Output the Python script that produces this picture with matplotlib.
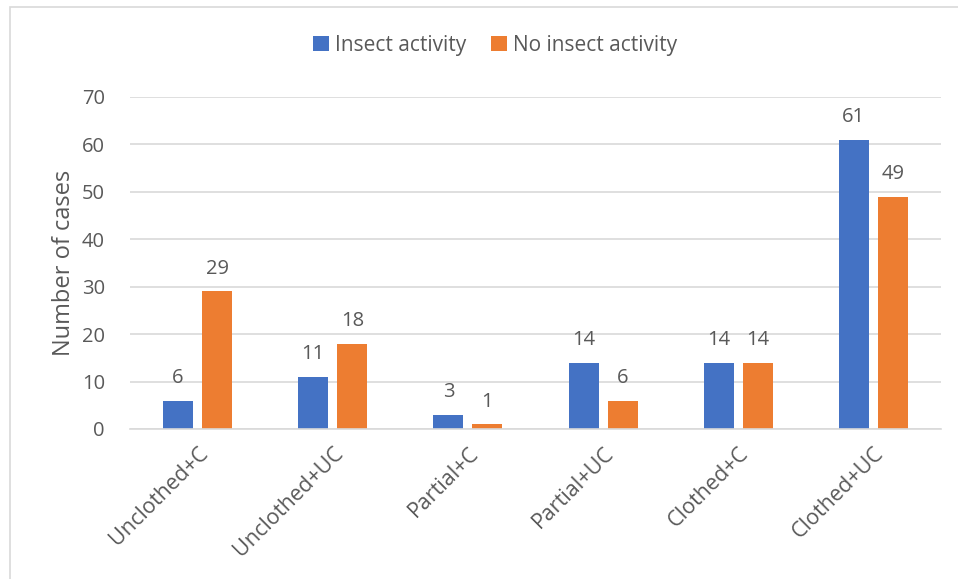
import matplotlib.pyplot as plt
import numpy as np
from matplotlib.patches import Rectangle

categories = ["Unclothed+C", "Unclothed+UC", "Partial+C", "Partial+UC", "Clothed+C", "Clothed+UC"]
insect = [6, 11, 3, 14, 14, 61]
no_insect = [29, 18, 1, 6, 14, 49]
series_names = ["Insect activity", "No insect activity"]
yticks = [0, 10, 20, 30, 40, 50, 60, 70]

plt.rcParams['font.family'] = ['Open Sans', 'DejaVu Sans']
txt = '#595959'
blue = '#4472C4'
orange = '#ED7D31'

fig = plt.figure(figsize=(9.58, 5.79), dpi=100)
W, H = 958, 579
ax = fig.add_axes([130 / W, 1 - 429 / H, (941 - 130) / W, (429 - 97) / H])

x = np.arange(len(categories))
bw = 0.222
gap = 0.067
b1 = ax.bar(x - (bw + gap) / 2, insect, bw, color=blue, label=series_names[0])
b2 = ax.bar(x + (bw + gap) / 2, no_insect, bw, color=orange, label=series_names[1])

for bars, vals in ((b1, insect), (b2, no_insect)):
    for r, v in zip(bars, vals):
        ax.annotate(str(v), (r.get_x() + r.get_width() / 2, v), xytext=(0, 9),
                    textcoords='offset points', ha='center', va='bottom',
                    fontsize=14.5, color=txt)

ax.set_xlim(-0.5, len(categories) - 0.5)
ax.set_ylim(0, 70)
ax.set_yticks(yticks)
ax.yaxis.grid(True, color='#D9D9D9', linewidth=1.2)
ax.set_axisbelow(True)
for s in ['top', 'right', 'left']:
    ax.spines[s].set_visible(False)
ax.spines['bottom'].set_color('#D9D9D9')
ax.spines['bottom'].set_linewidth(1.2)
ax.tick_params(axis='both', length=0, labelsize=14.5, labelcolor=txt)
ax.tick_params(axis='y', pad=18)
ax.set_xticks(x)
ax.set_xticklabels(categories, rotation=45, ha='right', rotation_mode='anchor', fontsize=15.5)
ax.tick_params(axis='x', pad=10)
ax.set_ylabel("Number of cases", fontsize=17, color=txt, labelpad=4)

leg = fig.legend(loc='center', bbox_to_anchor=(495 / W, 1 - 45 / H), ncol=2, frameon=False,
                 fontsize=15, labelcolor=txt, handlelength=0.75, handleheight=0.75,
                 handletextpad=0.3, columnspacing=1.2)

fig.patches.append(Rectangle((10 / W, -0.1), 1.2, 1 - 7 / H + 0.1, transform=fig.transFigure,
                             fill=False, edgecolor='#D9D9D9', linewidth=1.2))

fig.savefig('out.png', dpi=100)
